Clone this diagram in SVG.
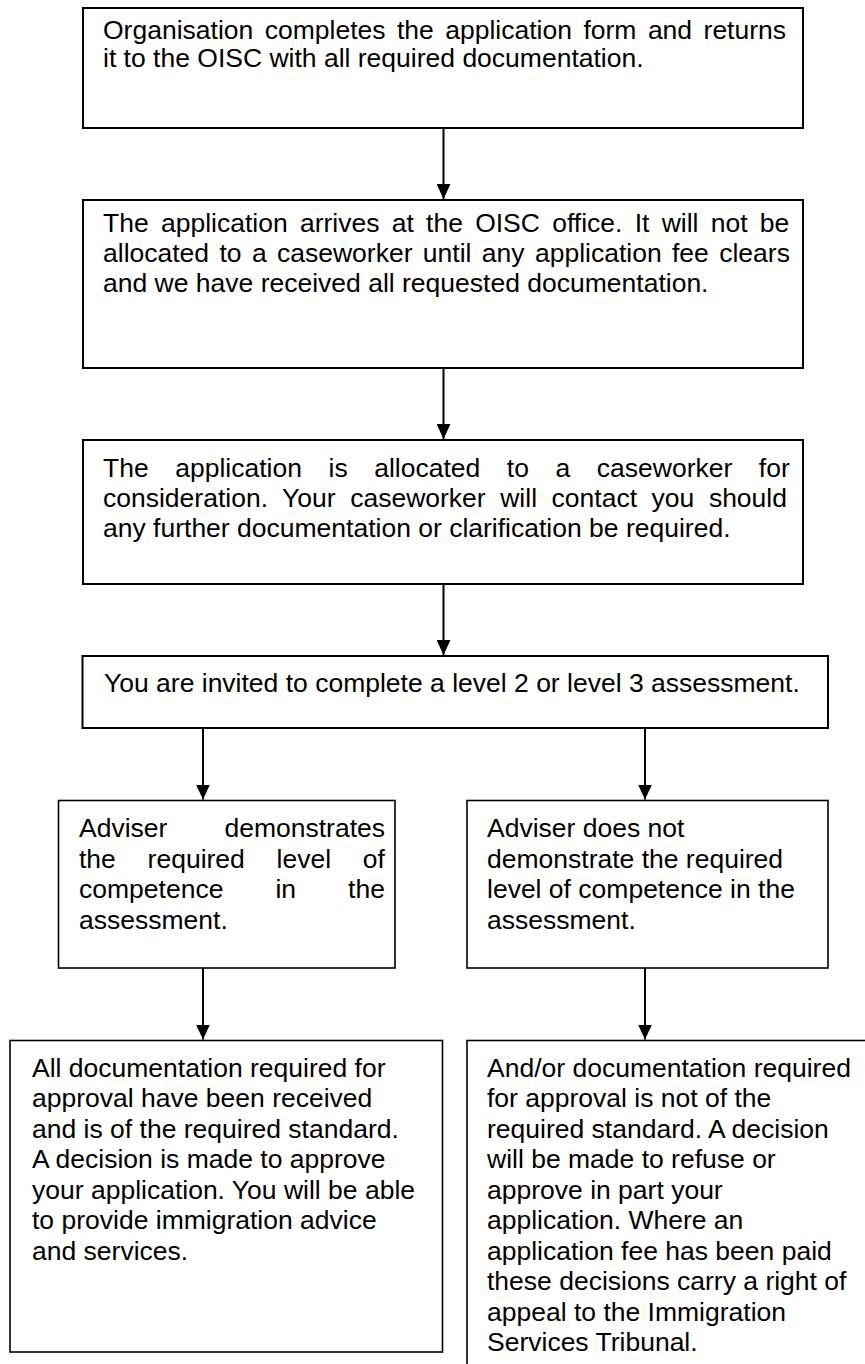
<svg xmlns="http://www.w3.org/2000/svg" width="865" height="1364" viewBox="0 0 865 1364">
<defs>
<style>
.box{fill:#fff;stroke:#000;stroke-width:2}
.box2{fill:#fff;stroke:#000;stroke-width:1.6}
.t{font-family:"Liberation Sans",Arial,sans-serif;font-size:26.5px;fill:#000}
.c{stroke:#000;stroke-width:2;fill:none}
</style>
<marker id="ah" markerUnits="userSpaceOnUse" markerWidth="15" markerHeight="14" refX="15" refY="7" orient="auto" viewBox="0 0 15 14">
<path d="M0,0 L15,7 L0,14 Z" fill="#000"/>
</marker>
</defs>
<rect width="865" height="1364" fill="#fff"/>
<g id="connectors">
<line class="c" x1="443.5" y1="128" x2="443.5" y2="199" marker-end="url(#ah)"/>
<line class="c" x1="443.5" y1="368" x2="443.5" y2="439" marker-end="url(#ah)"/>
<line class="c" x1="443.5" y1="584" x2="443.5" y2="655" marker-end="url(#ah)"/>
<line class="c" x1="203" y1="728" x2="203" y2="799.5" marker-end="url(#ah)"/>
<line class="c" x1="645" y1="728" x2="645" y2="799.5" marker-end="url(#ah)"/>
<line class="c" x1="203" y1="968" x2="203" y2="1039.5" marker-end="url(#ah)"/>
<line class="c" x1="645" y1="968" x2="645" y2="1039.5" marker-end="url(#ah)"/>
</g>
<g id="n1">
<rect class="box" x="83" y="8" width="720" height="120"/>
<text class="t" x="103" y="39" word-spacing="4.1">Organisation completes the application form and returns</text>
<text class="t" x="103" y="67">it to the OISC with all required documentation.</text>
</g>
<g id="n2">
<rect class="box" x="83" y="200" width="720" height="168"/>
<text class="t" x="103" y="232" word-spacing="4.9">The application arrives at the OISC office. It will not be</text>
<text class="t" x="103" y="262" word-spacing="3">allocated to a caseworker until any application fee clears</text>
<text class="t" x="103" y="292">and we have received all requested documentation.</text>
</g>
<g id="n3">
<rect class="box" x="83" y="440" width="720" height="144"/>
<text class="t" x="103" y="477" word-spacing="19.2">The application is allocated to a caseworker for</text>
<text class="t" x="103" y="507" word-spacing="7.2">consideration. Your caseworker will contact you should</text>
<text class="t" x="103" y="537">any further documentation or clarification be required.</text>
</g>
<g id="n4">
<rect class="box" x="82.5" y="656" width="745.5" height="72"/>
<text class="t" x="104" y="692">You are invited to complete a level 2 or level 3 assessment.</text>
</g>
<g id="n5">
<rect class="box2" x="58.5" y="800.5" width="336.5" height="167.5"/>
<text class="t" x="79" y="837" word-spacing="49.7">Adviser demonstrates</text>
<text class="t" x="79" y="867.5" word-spacing="24.4">the required level of</text>
<text class="t" x="79" y="898" word-spacing="44.7">competence in the</text>
<text class="t" x="79" y="928.5">assessment.</text>
</g>
<g id="n6">
<rect class="box2" x="467" y="800.5" width="361" height="167.5"/>
<text class="t" x="487" y="837">Adviser does not</text>
<text class="t" x="487" y="867.5">demonstrate the required</text>
<text class="t" x="487" y="898">level of competence in the</text>
<text class="t" x="487" y="928.5">assessment.</text>
</g>
<g id="n7">
<rect class="box2" x="10" y="1040.5" width="432.5" height="311.5"/>
<text class="t" x="32" y="1076.5">All documentation required for</text>
<text class="t" x="32" y="1107">approval have been received</text>
<text class="t" x="32" y="1137.5">and is of the required standard.</text>
<text class="t" x="32" y="1168">A decision is made to approve</text>
<text class="t" x="32" y="1198.5">your application. You will be able</text>
<text class="t" x="32" y="1229">to provide immigration advice</text>
<text class="t" x="32" y="1259.5">and services.</text>
</g>
<g id="n8">
<rect class="box2" x="467" y="1040.5" width="420" height="360"/>
<text class="t" x="487" y="1076.5">And/or documentation required</text>
<text class="t" x="487" y="1107">for approval is not of the</text>
<text class="t" x="487" y="1137.5">required standard. A decision</text>
<text class="t" x="487" y="1168">will be made to refuse or</text>
<text class="t" x="487" y="1198.5">approve in part your</text>
<text class="t" x="487" y="1229">application. Where an</text>
<text class="t" x="487" y="1259.5">application fee has been paid</text>
<text class="t" x="487" y="1290">these decisions carry a right of</text>
<text class="t" x="487" y="1320.5">appeal to the Immigration</text>
<text class="t" x="487" y="1351">Services Tribunal.</text>
</g>
</svg>
